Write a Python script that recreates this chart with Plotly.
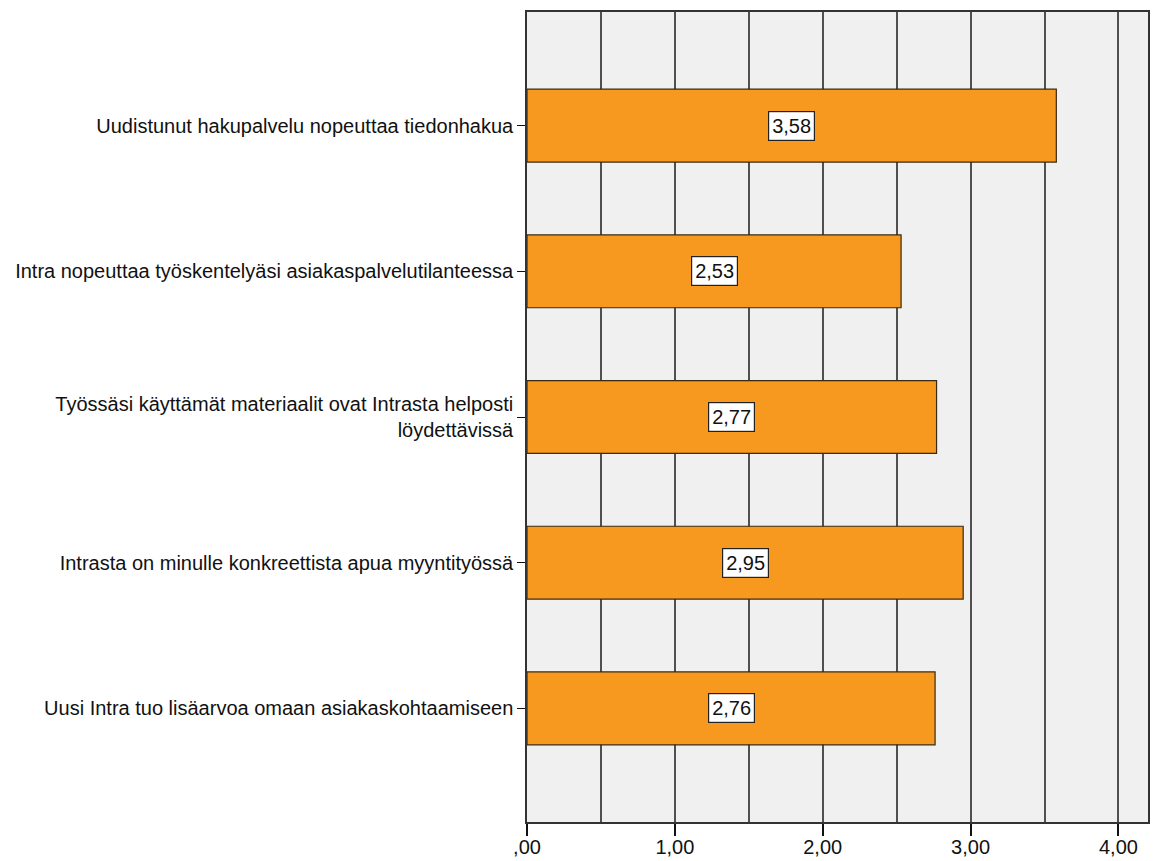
import plotly.graph_objects as go

# Survey statements and mean scores
categories = [
    "Uudistunut hakupalvelu nopeuttaa tiedonhakua",
    "Intra nopeuttaa työskentelyäsi asiakaspalvelutilanteessa",
    "Työssäsi käyttämät materiaalit ovat Intrasta helposti<br>löydettävissä",
    "Intrasta on minulle konkreettista apua myyntityössä",
    "Uusi Intra tuo lisäarvoa omaan asiakaskohtaamiseen",
]
means = [3.58, 2.53, 2.77, 2.95, 2.76]

tick_values = [0, 1, 2, 3, 4]
tick_labels = [",00", "1,00", "2,00", "3,00", "4,00"]

FONT = "Liberation Sans, Arial, sans-serif"
FS = 20

fig = go.Figure()
fig.add_trace(go.Bar(
    y=categories,
    x=means,
    orientation="h",
    width=0.5,
    marker=dict(color="#F7991F", line=dict(color="#3a2a10", width=1.2)),
    hoverinfo="x+y",
))

# Value labels: white boxes centred in each bar
for cat, v in zip(categories, means):
    fig.add_annotation(
        x=v / 2, y=cat, xref="x", yref="y",
        text=f"{v:.2f}".replace(".", ","),
        showarrow=False,
        font=dict(family=FONT, size=FS, color="#111"),
        bgcolor="white", bordercolor="#222", borderwidth=1.2, borderpad=3,
    )

fig.update_layout(
    width=1155, height=861,
    margin=dict(l=527, r=7, t=12, b=39),
    paper_bgcolor="white",
    plot_bgcolor="#F0F0F0",
    showlegend=False,
    bargap=0.5,
    font=dict(family=FONT, size=FS, color="#111"),
)

fig.update_xaxes(
    range=[0, 4.2],
    automargin=False,
    tickmode="array", tickvals=tick_values, ticktext=tick_labels,
    ticks="outside", ticklen=12, tickwidth=1.8, tickcolor="#111",
    showgrid=True, gridcolor="#505050", gridwidth=2,
    minor=dict(tickmode="linear", tick0=0, dtick=0.5, showgrid=True,
               gridcolor="#505050", gridwidth=2),
    showline=True, linecolor="#333", linewidth=1.5, mirror=True,
    zeroline=False,
    tickfont=dict(family=FONT, size=FS, color="#111"),
    ticklabelstandoff=-6,
)

fig.update_yaxes(
    automargin=False,
    categoryorder="array", categoryarray=categories,
    autorange=False, range=[4.78, -0.78],
    ticks="outside", ticklen=8, tickwidth=1.2, tickcolor="#111",
    showgrid=False,
    showline=True, linecolor="#333", linewidth=1.5, mirror=True,
    tickfont=dict(family=FONT, size=FS, color="#111"),
    ticklabelstandoff=0,
)

fig.write_html("out.html")
